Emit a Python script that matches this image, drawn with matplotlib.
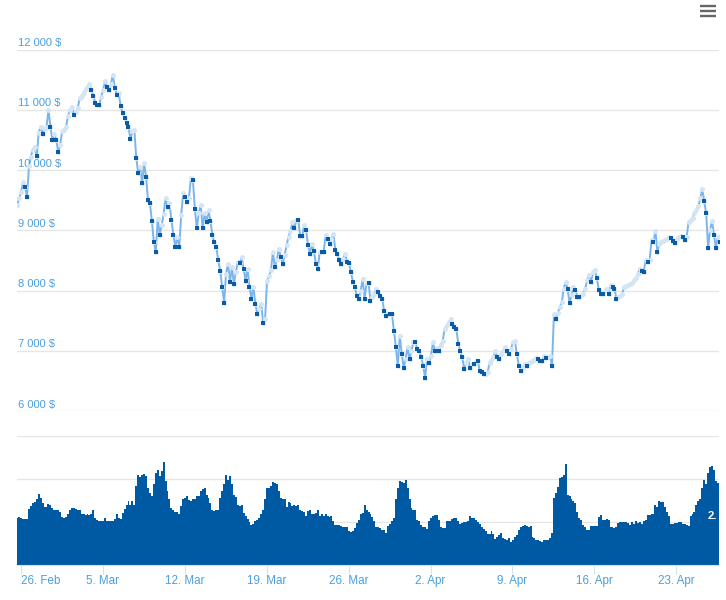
import matplotlib
matplotlib.use("Agg")
import matplotlib.pyplot as plt
import matplotlib.dates as mdates
from matplotlib.lines import Line2D
import numpy as np
import pandas as pd

plt.rcParams['font.family'] = ['Liberation Sans', 'DejaVu Sans']

price = [
 9420,9530,9640,9800,9720,9560,
 10060,10220,10340,10390,10230,10620,
 10720,10600,10680,10710,11000,10720,
 10500,10600,10500,10300,10420,10640,
 10670,10720,10890,11000,11050,10920,
 10960,11030,11190,11230,11280,11340,
 11390,11420,11330,11230,11110,11080,
 11080,11210,11330,11470,11380,11320,
 11430,11580,11360,11250,11280,11055,
 10950,10860,10780,10720,10510,10640,
 10670,10195,9945,10055,9780,10110,
 9890,9500,9445,9150,8800,8640,
 9195,8920,9080,9275,9530,9380,
 9445,9170,8920,8720,8890,8720,
 9250,9610,9560,9470,9540,9860,
 9830,9360,9030,9280,9420,9030,
 9280,9140,9330,9150,8920,8800,
 8720,8500,8330,8055,7800,8280,
 8445,8140,8390,8110,8305,8470,
 8455,8555,8360,8165,8360,8055,
 7860,8065,7780,7610,7700,7780,
 7455,7530,8165,8235,8335,8640,
 8390,8500,8695,8560,8445,8585,
 8750,8890,8990,9140,9030,9165,
 9165,8900,8900,9085,9000,8750,
 8610,8780,8650,8445,8360,8640,
 8640,8640,8915,8850,8780,8850,
 8945,8665,8610,8500,8445,8530,
 8610,8470,8450,8305,8140,8050,
 7915,7860,8000,8195,7860,8125,
 8125,7830,7900,7950,8030,7980,
 7915,7860,7665,7580,7610,7610,
 7610,7335,7055,6750,7250,6950,
 6720,6860,7055,6860,7000,7140,
 7140,7030,7000,6890,6750,6555,
 6860,6800,6915,7140,7000,7050,
 7000,7100,7165,7360,7420,7470,
 7530,7445,7400,7360,7110,7000,
 6890,6695,6800,6860,6720,6780,
 6780,6830,6830,6670,6650,6610,
 6620,6640,6800,6850,6890,7000,
 6900,6860,6950,6990,7055,7000,
 6945,7030,7140,7160,6945,6750,
 6670,6720,6780,6750,6800,6820,
 6835,6850,6880,6860,6835,6835,
 6915,6880,6900,6915,6750,7610,
 7530,7630,7720,7805,8030,8140,
 8030,7785,7920,8060,8005,7895,
 7895,7920,7950,8030,8170,8255,
 8145,8300,8340,8200,8005,7950,
 7950,8000,8030,7950,8090,8060,
 8030,7865,7900,7910,7950,8060,
 8070,8090,8110,8130,8170,8200,
 8280,8365,8330,8310,8505,8480,
 8505,8840,8800,8990,8645,8780,
 8810,8820,8840,8860,8895,8870,
 8820,8785,8850,8880,8910,8880,
 8830,8895,9145,9170,9200,9280,
 9340,9395,9530,9680,9480,9280,
 8710,9005,9160,8920,8710,8895,
 8810,
]

volume = [
 1.09,1.11,1.09,1.07,1.06,1.06,
 1.30,1.36,1.44,1.46,1.52,1.64,
 1.56,1.44,1.35,1.35,1.42,1.38,
 1.32,1.27,1.28,1.28,1.22,1.11,
 1.09,1.12,1.17,1.28,1.32,1.32,
 1.30,1.27,1.28,1.19,1.18,1.15,
 1.18,1.16,1.17,1.27,1.09,1.05,
 1.03,1.01,1.03,1.10,1.03,1.03,
 1.03,1.03,1.07,1.18,1.09,1.07,
 1.21,1.30,1.38,1.48,1.40,1.48,
 1.38,1.84,2.08,2.05,2.08,2.10,
 2.06,1.79,1.66,1.61,1.87,2.14,
 2.20,2.06,2.18,2.39,1.95,1.71,
 1.52,1.32,1.28,1.22,1.22,1.17,
 1.36,1.52,1.56,1.61,1.50,1.49,
 1.53,1.52,1.61,1.60,1.71,1.77,
 1.79,1.63,1.56,1.44,1.28,1.25,
 1.27,1.28,1.56,1.71,1.87,2.08,
 1.98,2.06,1.87,1.63,1.58,1.40,
 1.36,1.38,1.21,1.14,1.07,0.99,
 0.93,0.96,1.03,1.05,1.10,1.18,
 1.28,1.52,1.79,1.79,1.83,1.92,
 1.91,1.87,1.71,1.56,1.52,1.52,
 1.35,1.46,1.44,1.36,1.38,1.36,
 1.38,1.28,1.25,1.22,1.13,1.25,
 1.28,1.17,1.17,1.21,1.28,1.13,
 1.17,1.14,1.18,1.13,1.11,1.13,
 1.01,0.93,0.93,0.92,0.91,0.88,
 0.88,0.88,0.78,0.76,0.78,0.86,
 0.97,1.05,1.19,1.21,1.38,1.28,
 1.22,1.17,1.11,1.01,0.89,0.89,
 0.86,0.82,0.80,0.74,0.91,0.96,
 1.01,1.09,1.52,1.79,1.95,1.92,
 1.91,1.98,1.79,1.52,1.32,1.28,
 1.28,1.05,1.01,0.93,0.88,0.88,
 0.83,1.01,1.09,1.13,1.15,1.15,
 1.05,0.88,0.86,0.86,1.01,1.03,
 1.03,1.07,1.09,1.08,1.01,0.96,
 0.97,1.00,1.00,1.01,1.14,1.09,
 1.08,1.04,1.00,0.95,0.88,0.84,
 0.78,0.71,0.71,0.78,0.71,0.61,
 0.66,0.70,0.73,0.63,0.61,0.59,
 0.63,0.53,0.57,0.65,0.69,0.80,
 0.88,0.90,0.92,0.91,0.88,0.90,
 0.66,0.63,0.59,0.59,0.55,0.53,
 0.59,0.59,0.59,0.63,0.74,1.55,
 1.66,1.80,2.02,2.05,2.09,2.33,
 1.63,1.59,1.52,1.49,1.43,1.23,
 1.08,1.04,0.92,0.87,0.80,0.80,
 0.90,0.90,0.90,0.90,1.12,1.16,
 1.05,1.05,1.06,1.04,0.87,0.88,
 0.86,0.88,0.97,0.99,0.99,1.00,
 0.99,0.97,0.93,0.99,0.96,1.01,
 0.97,0.99,0.96,1.03,1.05,1.15,
 1.15,1.17,1.17,1.38,1.35,1.48,
 1.46,1.46,1.35,1.22,1.13,0.96,
 0.96,0.97,0.98,0.99,0.99,0.96,
 0.96,0.93,0.91,1.13,1.19,1.22,
 1.38,1.48,1.52,1.79,1.97,1.87,
 2.14,2.28,2.30,2.20,1.95,1.89,
 1.84,
]

price_ticks = [6000, 7000, 8000, 9000, 10000, 11000, 12000]
price_labels = ["6 000 $", "7 000 $", "8 000 $", "9 000 $", "10 000 $", "11 000 $", "12 000 $"]
date_ticks = ["2018-02-26", "2018-03-05", "2018-03-12", "2018-03-19", "2018-03-26", "2018-04-02", "2018-04-09", "2018-04-16", "2018-04-23"]
date_labels = ["26. Feb", "5. Mar", "12. Mar", "19. Mar", "26. Mar", "2. Apr", "9. Apr", "16. Apr", "23. Apr"]
volume_ticks = [0, 1, 2, 3]

W, H = 726, 600
LABEL = "#4a9fdc"
GRID = "#e6e6e6"
LINE = "#7cb5ec"
DARK = "#0a5ca6"
LIGHT = "#d4e5f4"
VOL = "#005aa3"

times = pd.date_range("2018-02-25 17:00", periods=len(price), freq="4h")
xs = mdates.date2num(times)
x0 = xs[0] - 0.5 / 24
x1 = x0 + 702 / 11.71

def rect(left, right, top, bottom):
    return [left / W, 1 - bottom / H, (right - left) / W, (bottom - top) / H]

fig = plt.figure(figsize=(W / 100, H / 100), dpi=100, facecolor="white")

ax = fig.add_axes(rect(17, 719, 49.5, 411))
ax.set_xlim(x0, x1)
ax.set_ylim(6000, 12000)
ax.patch.set_alpha(0)
for s in ax.spines.values():
    s.set_visible(False)
ax.set_yticks(price_ticks)
ax.set_yticklabels([])
ax.set_xticks([])
ax.tick_params(left=False)
ax.grid(axis="y", color=GRID, lw=1)
ax.set_axisbelow(True)
for v, lab in zip(price_ticks, price_labels):
    ax.annotate(lab, (x0, v), xytext=(1, 1), textcoords="offset points", color=LABEL,
                fontsize=8, ha="left", va="bottom")

p = np.array(price, dtype=float)
up = np.r_[True, np.diff(p) > 0]
ax.plot(xs, p, color=LINE, lw=1.4, zorder=2)
ax.scatter(xs, p, marker="o", s=13, color=LIGHT, linewidths=0, zorder=3)
ax.scatter(xs[~up], p[~up], marker="s", s=6.5, color=DARK, linewidths=0, zorder=4)

vx = fig.add_axes(rect(17, 719, 435.5, 565))
vx.set_xlim(x0, x1)
vx.set_ylim(0, 3)
vx.patch.set_alpha(0)
for name, s in vx.spines.items():
    s.set_visible(name == "bottom")
vx.spines["bottom"].set_color("#cfe3f5")
vx.set_yticks(volume_ticks)
vx.set_yticklabels([])
vx.tick_params(left=False)
vx.grid(axis="y", color=GRID, lw=1)
vx.set_axisbelow(True)
vx.bar(xs, volume, width=1 / 6, color=VOL, linewidth=0, zorder=2)
vx.set_xticks(mdates.date2num(pd.to_datetime(date_ticks)))
vx.set_xticklabels(date_labels, color=LABEL, fontsize=8.4)
vx.tick_params(axis="x", length=6.5, width=0.8, color="#cfe3f5", pad=0.5)
tick_texts = vx.get_xticklabels()
tick_texts[0].set_ha("left")
tick_texts[0].set_x(mdates.date2num(pd.Timestamp(date_ticks[0])) - 2.5 / 11.71)
vx.annotate("2.", (1, 1.14), xycoords=("axes fraction", "data"), xytext=(-8, 0),
            textcoords="offset points", color="white", fontsize=8.2, fontweight="bold",
            ha="left", va="center", zorder=5)

for y in (6, 11, 16):
    fig.add_artist(Line2D([699.5 / W, 716 / W], [1 - y / H, 1 - y / H], color="#666666", lw=1.7,
                          solid_capstyle="butt"))

fig.savefig("out.png", dpi=100)
